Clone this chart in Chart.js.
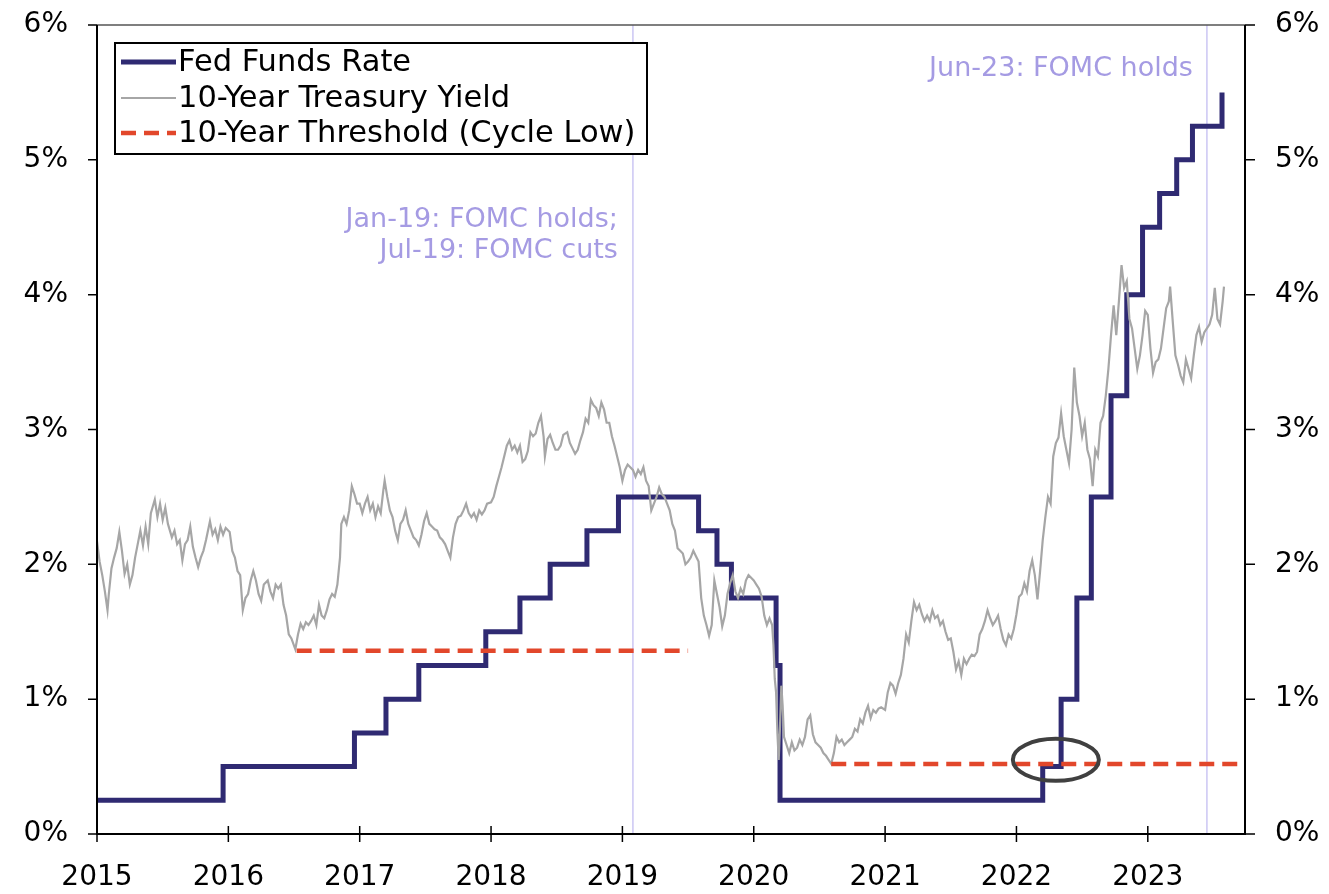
<!DOCTYPE html>
<html>
<head>
<meta charset="utf-8">
<script src="https://cdn.jsdelivr.net/npm/chart.js@4/dist/chart.umd.min.js"></script>
<style>
  body { margin: 0; background: #fff; }
  canvas { display: block; }
</style>
</head>
<body>
<canvas id="rates-chart" width="1329" height="894"></canvas>
<script>
// x axis years and tick labels
const yearTicks = [2015, 2016, 2017, 2018, 2019, 2020, 2021, 2022, 2023];
const xMin = 2015;
const xMax = 2023.74;
const pctTicks = [0, 1, 2, 3, 4, 5, 6];

// Fed funds target (upper bound), value from each date onward
const fedDates = [2015.0, 2015.96, 2016.96, 2017.2, 2017.45, 2017.96, 2018.22, 2018.45, 2018.73, 2018.97,
    2019.58, 2019.72, 2019.83, 2020.17, 2020.2, 2022.2, 2022.34, 2022.46, 2022.57, 2022.72,
    2022.84, 2022.96, 2023.09, 2023.22, 2023.34, 2023.565];
const fedValues = [0.25, 0.5, 0.75, 1.0, 1.25, 1.5, 1.75, 2.0, 2.25, 2.5,
    2.25, 2.0, 1.75, 1.25, 0.25, 0.5, 1.0, 1.75, 2.5, 3.25,
    4.0, 4.5, 4.75, 5.0, 5.25, 5.5];

// 10-year treasury yield
const tsyDates = [
    2015.00, 2015.02, 2015.04, 2015.06, 2015.08, 2015.09, 2015.11, 2015.13, 2015.15, 2015.17, 2015.19, 2015.21, 2015.23, 2015.25, 2015.27, 2015.29,
    2015.31, 2015.33, 2015.35, 2015.37, 2015.39, 2015.41, 2015.44, 2015.46, 2015.48, 2015.50, 2015.52, 2015.54, 2015.57, 2015.59, 2015.61, 2015.63,
    2015.65, 2015.67, 2015.69, 2015.71, 2015.73, 2015.75, 2015.77, 2015.79, 2015.81, 2015.83, 2015.86, 2015.88, 2015.90, 2015.92, 2015.94, 2015.96, 2015.98,
    2016.01, 2016.03, 2016.05, 2016.07, 2016.09, 2016.11, 2016.13, 2016.15, 2016.17, 2016.19, 2016.21, 2016.23, 2016.25, 2016.27, 2016.30, 2016.32,
    2016.34, 2016.36, 2016.38, 2016.40, 2016.42, 2016.44, 2016.46, 2016.48, 2016.51, 2016.53, 2016.55, 2016.57, 2016.59, 2016.61, 2016.63, 2016.65,
    2016.67, 2016.69, 2016.71, 2016.73, 2016.75, 2016.77, 2016.79, 2016.81, 2016.83, 2016.85, 2016.86, 2016.88, 2016.90, 2016.92, 2016.94, 2016.96, 2016.98,
    2017.00, 2017.02, 2017.04, 2017.06, 2017.08, 2017.10, 2017.12, 2017.14, 2017.16, 2017.18, 2017.19, 2017.21, 2017.23, 2017.25, 2017.27, 2017.29,
    2017.31, 2017.33, 2017.35, 2017.37, 2017.39, 2017.41, 2017.43, 2017.45, 2017.47, 2017.49, 2017.51, 2017.53, 2017.55, 2017.57, 2017.59, 2017.61,
    2017.63, 2017.65, 2017.67, 2017.69, 2017.71, 2017.73, 2017.75, 2017.77, 2017.79, 2017.81, 2017.83, 2017.85, 2017.87, 2017.89, 2017.91, 2017.93, 2017.95, 2017.97,
    2018.00, 2018.02, 2018.04, 2018.06, 2018.08, 2018.10, 2018.12, 2018.14, 2018.16, 2018.18, 2018.20, 2018.22, 2018.24, 2018.26, 2018.28, 2018.30,
    2018.32, 2018.34, 2018.36, 2018.38, 2018.40, 2018.41, 2018.43, 2018.45, 2018.47, 2018.49, 2018.51, 2018.53, 2018.55, 2018.58, 2018.60, 2018.62,
    2018.64, 2018.66, 2018.68, 2018.70, 2018.72, 2018.74, 2018.76, 2018.78, 2018.80, 2018.82, 2018.84, 2018.86, 2018.88, 2018.90, 2018.92, 2018.94, 2018.96, 2018.98,
    2019.00, 2019.02, 2019.04, 2019.06, 2019.08, 2019.10, 2019.12, 2019.14, 2019.16, 2019.18, 2019.20, 2019.22, 2019.24, 2019.26, 2019.28, 2019.30,
    2019.32, 2019.34, 2019.36, 2019.38, 2019.40, 2019.42, 2019.44, 2019.46, 2019.48, 2019.50, 2019.52, 2019.54, 2019.56, 2019.58, 2019.60, 2019.62,
    2019.64, 2019.66, 2019.68, 2019.70, 2019.72, 2019.74, 2019.76, 2019.78, 2019.80, 2019.82, 2019.84, 2019.86, 2019.88, 2019.90, 2019.92, 2019.94, 2019.96, 2019.98,
    2020.00, 2020.02, 2020.04, 2020.06, 2020.08, 2020.10, 2020.12, 2020.14, 2020.15, 2020.16, 2020.17, 2020.18, 2020.19, 2020.20, 2020.21, 2020.22,
    2020.23, 2020.25, 2020.27, 2020.29, 2020.31, 2020.33, 2020.35, 2020.37, 2020.39, 2020.41, 2020.43, 2020.45, 2020.47, 2020.49, 2020.51, 2020.53,
    2020.55, 2020.57, 2020.59, 2020.61, 2020.63, 2020.65, 2020.67, 2020.69, 2020.71, 2020.73, 2020.75, 2020.77, 2020.79, 2020.81, 2020.83, 2020.85,
    2020.87, 2020.89, 2020.91, 2020.93, 2020.95, 2020.97,
    2021.00, 2021.02, 2021.04, 2021.06, 2021.08, 2021.10, 2021.12, 2021.14, 2021.16, 2021.18, 2021.20, 2021.22, 2021.24, 2021.26, 2021.28, 2021.30,
    2021.32, 2021.34, 2021.36, 2021.38, 2021.40, 2021.42, 2021.44, 2021.46, 2021.48, 2021.50, 2021.52, 2021.54, 2021.56, 2021.58, 2021.60, 2021.62,
    2021.64, 2021.66, 2021.68, 2021.70, 2021.72, 2021.74, 2021.76, 2021.78, 2021.80, 2021.82, 2021.84, 2021.86, 2021.88, 2021.90, 2021.92, 2021.94, 2021.96, 2021.98,
    2022.00, 2022.02, 2022.04, 2022.06, 2022.08, 2022.10, 2022.12, 2022.14, 2022.16, 2022.18, 2022.20, 2022.22, 2022.24, 2022.26, 2022.28, 2022.30,
    2022.32, 2022.34, 2022.36, 2022.38, 2022.40, 2022.42, 2022.44, 2022.46, 2022.48, 2022.50, 2022.52, 2022.54, 2022.56, 2022.58, 2022.60, 2022.62,
    2022.64, 2022.66, 2022.68, 2022.70, 2022.72, 2022.74, 2022.76, 2022.78, 2022.80, 2022.82, 2022.84, 2022.86, 2022.88, 2022.90, 2022.92, 2022.94, 2022.96, 2022.98,
    2023.00, 2023.02, 2023.04, 2023.06, 2023.08, 2023.10, 2023.12, 2023.14, 2023.16, 2023.17, 2023.19, 2023.21, 2023.23, 2023.25, 2023.27, 2023.29,
    2023.31, 2023.33, 2023.35, 2023.37, 2023.39, 2023.41, 2023.43, 2023.45, 2023.47, 2023.49, 2023.51, 2023.53, 2023.55, 2023.57, 2023.58
];
const tsyValues = [
    2.17, 2.02, 1.92, 1.80, 1.66, 1.78, 1.97, 2.05, 2.12, 2.24, 2.10, 1.93, 2.00, 1.85, 1.92, 2.05,
    2.15, 2.25, 2.14, 2.28, 2.15, 2.38, 2.48, 2.35, 2.45, 2.33, 2.42, 2.30, 2.20, 2.25, 2.15, 2.18,
    2.03, 2.15, 2.18, 2.28, 2.13, 2.05, 1.98, 2.05, 2.10, 2.18, 2.32, 2.22, 2.26, 2.18, 2.28, 2.22, 2.27,
    2.24, 2.10, 2.05, 1.95, 1.92, 1.66, 1.75, 1.78, 1.88, 1.95, 1.88, 1.78, 1.73, 1.85, 1.88, 1.80,
    1.75, 1.85, 1.82, 1.85, 1.70, 1.62, 1.48, 1.45, 1.37, 1.48, 1.56, 1.52, 1.57, 1.55, 1.58, 1.62,
    1.55, 1.70, 1.62, 1.60, 1.66, 1.74, 1.78, 1.76, 1.85, 2.05, 2.30, 2.35, 2.30, 2.40, 2.58, 2.52, 2.45,
    2.45, 2.38, 2.45, 2.50, 2.40, 2.45, 2.35, 2.43, 2.38, 2.55, 2.62, 2.50, 2.40, 2.35, 2.25, 2.18,
    2.30, 2.33, 2.40, 2.30, 2.25, 2.20, 2.18, 2.14, 2.22, 2.32, 2.38, 2.30, 2.28, 2.26, 2.25, 2.20,
    2.18, 2.15, 2.10, 2.05, 2.20, 2.30, 2.35, 2.36, 2.40, 2.45, 2.38, 2.35, 2.38, 2.33, 2.40, 2.37, 2.40, 2.45,
    2.46, 2.50, 2.58, 2.65, 2.72, 2.80, 2.88, 2.92, 2.85, 2.88, 2.83, 2.88, 2.76, 2.78, 2.84, 2.98,
    2.95, 2.97, 3.05, 3.10, 2.95, 2.80, 2.93, 2.96, 2.90, 2.85, 2.85, 2.88, 2.96, 2.98, 2.90, 2.86,
    2.82, 2.85, 2.92, 2.98, 3.08, 3.05, 3.22, 3.18, 3.16, 3.10, 3.20, 3.15, 3.05, 3.05, 2.95, 2.88, 2.80, 2.72,
    2.62, 2.70, 2.74, 2.72, 2.70, 2.65, 2.70, 2.67, 2.72, 2.62, 2.58, 2.40, 2.45, 2.50, 2.57, 2.52,
    2.50, 2.45, 2.40, 2.30, 2.25, 2.12, 2.10, 2.08, 2.00, 2.02, 2.05, 2.10, 2.06, 2.02, 1.75, 1.62,
    1.55, 1.47, 1.55, 1.88, 1.78, 1.68, 1.54, 1.62, 1.78, 1.86, 1.92, 1.80, 1.75, 1.82, 1.78, 1.88, 1.92, 1.90,
    1.88, 1.85, 1.82, 1.76, 1.62, 1.55, 1.60, 1.55, 1.40, 1.15, 1.05, 0.75, 0.55, 0.80, 1.10, 0.95,
    0.72, 0.66, 0.60, 0.68, 0.62, 0.64, 0.70, 0.66, 0.72, 0.85, 0.88, 0.74, 0.68, 0.66, 0.64, 0.60,
    0.58, 0.55, 0.52, 0.60, 0.72, 0.68, 0.70, 0.66, 0.68, 0.70, 0.72, 0.78, 0.76, 0.85, 0.82, 0.90,
    0.95, 0.86, 0.92, 0.90, 0.93, 0.94,
    0.92, 1.05, 1.12, 1.10, 1.04, 1.12, 1.18, 1.30, 1.48, 1.42, 1.58, 1.72, 1.66, 1.70, 1.63, 1.58,
    1.62, 1.58, 1.66, 1.60, 1.62, 1.55, 1.58, 1.50, 1.44, 1.45, 1.35, 1.22, 1.28, 1.18, 1.30, 1.26,
    1.30, 1.33, 1.32, 1.35, 1.48, 1.52, 1.58, 1.66, 1.60, 1.55, 1.58, 1.62, 1.52, 1.44, 1.40, 1.48, 1.45, 1.52,
    1.63, 1.76, 1.78, 1.86, 1.80, 1.95, 2.03, 1.92, 1.74, 1.95, 2.18, 2.35, 2.50, 2.45, 2.80, 2.90,
    2.94, 3.12, 2.95, 2.85, 2.75, 3.00, 3.46, 3.20, 3.10, 2.95, 3.05, 2.85, 2.78, 2.58, 2.85, 2.80,
    3.05, 3.10, 3.25, 3.45, 3.70, 3.92, 3.70, 3.95, 4.22, 4.05, 4.10, 3.82, 3.75, 3.60, 3.45, 3.55, 3.70, 3.88,
    3.85, 3.60, 3.42, 3.50, 3.52, 3.60, 3.75, 3.90, 3.95, 4.06, 3.80, 3.55, 3.48, 3.40, 3.35, 3.52,
    3.45, 3.38, 3.55, 3.70, 3.76, 3.65, 3.72, 3.75, 3.78, 3.85, 4.05, 3.82, 3.78, 3.95, 4.06
];

// 10-year cycle lows, two separate segments (null breaks the line)
const thresholdDates = [2016.52, 2019.5, 2020.0, 2020.59, 2023.74];
const thresholdValues = [1.36, 1.36, null, 0.52, 0.52];

// FOMC markers
const fomcDates = [2019.08, 2023.45];
const fomcNotes = [['Jan-19: FOMC holds;', 'Jul-19: FOMC cuts'], ['Jun-23: FOMC holds']];
// highlighted point (circle)
const circleAt = { x: 2022.3, y: 0.55 };

const FONT = "'DejaVu Sans', Verdana, sans-serif";
const NAVY = '#2f2a72';
const GREY = '#a6a6a6';
const RED = '#e2472b';
const LAVENDER = '#a59be3';

function toPoints(xs, ys) {
    return xs.map((x, i) => ({ x: x, y: ys[i] }));
}

//No extra room for labels hanging over the plot edges
function noOverhang(scale) {
    scale.paddingTop = 0;
    scale.paddingBottom = 0;
    scale.paddingLeft = 0;
    scale.paddingRight = 0;
}

//Axis lines, tick marks, fomc lines, circle and legend
const decorPlugin = {
    id: 'decor',
    beforeDatasetsDraw(chart) {
        const { ctx, chartArea, scales } = chart;
        ctx.save();
        ctx.strokeStyle = '#cbc6f3';
        ctx.lineWidth = 1.5;
        fomcDates.forEach(d => {
            const x = scales.x.getPixelForValue(d);
            ctx.beginPath();
            ctx.moveTo(x, chartArea.top);
            ctx.lineTo(x, chartArea.bottom);
            ctx.stroke();
        });
        ctx.restore();
    },
    afterDatasetsDraw(chart) {
        const { ctx, chartArea, scales } = chart;
        const { left, right, top, bottom } = chartArea;
        ctx.save();

        // frame
        ctx.strokeStyle = '#555';
        ctx.lineWidth = 1.5;
        ctx.beginPath();
        ctx.moveTo(left, top);
        ctx.lineTo(right, top);
        ctx.stroke();

        ctx.strokeStyle = '#000';
        ctx.lineWidth = 2;
        ctx.beginPath();
        ctx.moveTo(left, top);
        ctx.lineTo(left, bottom);
        ctx.lineTo(right, bottom);
        ctx.lineTo(right, top);
        ctx.stroke();

        ctx.lineWidth = 1.5;
        ctx.beginPath();
        pctTicks.forEach(v => {
            const y = scales.y.getPixelForValue(v);
            ctx.moveTo(left - 9, y);
            ctx.lineTo(left, y);
            ctx.moveTo(right, y);
            ctx.lineTo(right + 10, y);
        });
        yearTicks.forEach(v => {
            const x = scales.x.getPixelForValue(v);
            ctx.moveTo(x, bottom - 8);
            ctx.lineTo(x, bottom + 8);
        });
        ctx.stroke();

        // circle round the first hike
        const cx = scales.x.getPixelForValue(circleAt.x);
        const cy = scales.y.getPixelForValue(circleAt.y);
        ctx.strokeStyle = '#404040';
        ctx.lineWidth = 4;
        ctx.beginPath();
        ctx.ellipse(cx, cy, 43, 21, 0, 0, Math.PI * 2);
        ctx.stroke();

        // fomc notes
        ctx.fillStyle = LAVENDER;
        ctx.font = '27px ' + FONT;
        ctx.textAlign = 'right';
        ctx.textBaseline = 'middle';
        const x1 = scales.x.getPixelForValue(fomcDates[0]) - 15;
        ctx.fillText(fomcNotes[0][0], x1, 220);
        ctx.fillText(fomcNotes[0][1], x1, 251);
        const x2 = scales.x.getPixelForValue(fomcDates[1]) - 14;
        ctx.fillText(fomcNotes[1][0], x2, 69);

        // legend box
        ctx.fillStyle = '#fff';
        ctx.fillRect(115, 43, 532, 111);
        ctx.strokeStyle = '#000';
        ctx.lineWidth = 2;
        ctx.strokeRect(115, 43, 532, 111);
        const rows = [62, 98, 133];
        chart.data.datasets.forEach((ds, i) => {
            const y = rows[i];
            ctx.strokeStyle = ds.borderColor;
            ctx.lineWidth = ds.borderWidth;
            ctx.setLineDash(ds.borderDash || []);
            ctx.beginPath();
            ctx.moveTo(121, y);
            ctx.lineTo(176, y);
            ctx.stroke();
            ctx.setLineDash([]);
            ctx.fillStyle = '#000';
            ctx.font = '30.5px ' + FONT;
            ctx.textAlign = 'left';
            ctx.fillText(ds.label, 178, y + 1);
        });
        ctx.restore();
    }
};

const ctx = document.getElementById('rates-chart').getContext('2d');

const myChart = new Chart(ctx, {
    type: 'line',
    data: {
        datasets: [{
            label: 'Fed Funds Rate',
            data: toPoints(fedDates, fedValues),
            borderColor: NAVY,
            borderWidth: 5,
            stepped: true,
            pointRadius: 0,
            order: 3
        }, {
            label: '10-Year Treasury Yield',
            data: toPoints(tsyDates, tsyValues),
            borderColor: GREY,
            borderWidth: 2.2,
            pointRadius: 0,
            order: 2
        }, {
            label: '10-Year Threshold (Cycle Low)',
            data: toPoints(thresholdDates, thresholdValues),
            borderColor: RED,
            borderWidth: 4.5,
            borderDash: [15, 8],
            pointRadius: 0,
            spanGaps: false,
            order: 1
        }]
    },
    options: {
        responsive: false,
        animation: false,
        layout: { padding: { top: 25, left: 0, right: 0, bottom: 0 } },
        scales: {
            x: {
                type: 'linear',
                min: xMin,
                max: xMax,
                afterBuildTicks: (scale) => { scale.ticks = yearTicks.map(v => ({ value: v })); },
                afterFit: (scale) => { scale.height = 60; noOverhang(scale); },
                grid: { display: false, drawTicks: false },
                border: { display: false },
                ticks: {
                    padding: 27,
                    color: '#000',
                    font: { family: FONT, size: 28 },
                    maxRotation: 0,
                    autoSkip: false,
                    callback: (v) => String(v)
                }
            },
            y: {
                position: 'left',
                min: 0,
                max: 6,
                afterBuildTicks: (scale) => { scale.ticks = pctTicks.map(v => ({ value: v })); },
                afterFit: (scale) => { scale.width = 97; noOverhang(scale); },
                grid: { display: false, drawTicks: false },
                border: { display: false },
                ticks: {
                    padding: 29,
                    color: '#000',
                    font: { family: FONT, size: 28 },
                    callback: (v) => v + '%'
                }
            },
            y2: {
                position: 'right',
                min: 0,
                max: 6,
                afterBuildTicks: (scale) => { scale.ticks = pctTicks.map(v => ({ value: v })); },
                afterFit: (scale) => { scale.width = 84; noOverhang(scale); },
                grid: { display: false, drawTicks: false },
                border: { display: false },
                ticks: {
                    padding: 30,
                    color: '#000',
                    font: { family: FONT, size: 28 },
                    callback: (v) => v + '%'
                }
            }
        },
        plugins: {
            legend: { display: false },
            tooltip: { enabled: false }
        }
    },
    plugins: [decorPlugin]
});
</script>
</body>
</html>
